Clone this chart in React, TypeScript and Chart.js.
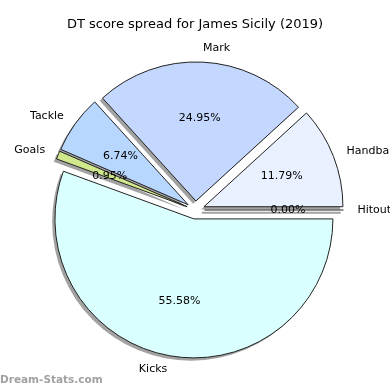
import React, { useEffect, useRef } from "react";
import { Chart, registerables } from "chart.js";

Chart.register(...registerables);

// Data in matplotlib order (counter-clockwise from east)
const labels = ["Hitout", "Handball", "Mark", "Tackle", "Goals", "Kicks"];
const percents = [0.0, 11.79, 24.95, 6.74, 0.95, 55.58];
const colors = ["#f2f7ff", "#e9f0ff", "#c4d8ff", "#b7d7ff", "#cfe88c", "#d9ffff"];

const TITLE = "DT score spread for James Sicily (2019)";
const WATERMARK = "Dream-Stats.com";

// Chart.js draws clockwise, so reverse to mimic counter-clockwise order
const revLabels = [...labels].reverse();
const revValues = [...percents].reverse();
const revColors = [...colors].reverse();

const EXPLODE_FRAC = 0.065;
const SHADOW_FRAC = 0.02;
const FONT = "'DejaVu Sans', sans-serif";

const piePlugin = {
  id: "pieDecor",
  beforeDatasetsDraw(chart: any) {
    const ctx = chart.ctx as CanvasRenderingContext2D;
    const meta = chart.getDatasetMeta(0);
    // shadows
    meta.data.forEach((arc: any) => {
      const { x, y, startAngle, endAngle, outerRadius } = arc;
      const mid = (startAngle + endAngle) / 2;
      const ex = EXPLODE_FRAC * outerRadius;
      const sh = SHADOW_FRAC * outerRadius;
      const cx = x + Math.cos(mid) * ex - sh;
      const cy = y + Math.sin(mid) * ex + sh;
      ctx.save();
      if (endAngle - startAngle > 1e-6) {
        ctx.beginPath();
        ctx.moveTo(cx, cy);
        ctx.arc(cx, cy, outerRadius, startAngle, endAngle);
        ctx.closePath();
        ctx.fillStyle = "rgba(70,70,70,0.5)";
        ctx.fill();
      } else {
        ctx.beginPath();
        ctx.moveTo(cx, cy);
        ctx.lineTo(cx + Math.cos(startAngle) * outerRadius, cy + Math.sin(startAngle) * outerRadius);
        ctx.strokeStyle = "rgba(70,70,70,0.5)";
        ctx.lineWidth = 2;
        ctx.stroke();
      }
      ctx.restore();
    });
  },
  beforeDatasetDraw(chart: any) {
    const ctx = chart.ctx as CanvasRenderingContext2D;
    const meta = chart.getDatasetMeta(0);
    meta.data.forEach((arc: any) => {
      const { x, y, startAngle, endAngle, outerRadius } = arc;
      const mid = (startAngle + endAngle) / 2;
      const ex = EXPLODE_FRAC * outerRadius;
      ctx.save();
      ctx.translate(Math.cos(mid) * ex, Math.sin(mid) * ex);
      if (endAngle - startAngle > 1e-6) {
        arc.draw(ctx);
      } else {
        ctx.beginPath();
        ctx.moveTo(x, y);
        ctx.lineTo(x + Math.cos(startAngle) * outerRadius, y + Math.sin(startAngle) * outerRadius);
        ctx.strokeStyle = "#222";
        ctx.lineWidth = 1;
        ctx.stroke();
      }
      ctx.restore();
    });
    return false;
  },
  afterDatasetsDraw(chart: any) {
    const ctx = chart.ctx as CanvasRenderingContext2D;
    const meta = chart.getDatasetMeta(0);
    const ds = chart.data.datasets[0];
    ctx.save();
    ctx.font = `11px ${FONT}`;
    ctx.fillStyle = "#000";
    ctx.textBaseline = "middle";
    meta.data.forEach((arc: any, i: number) => {
      const { x, y, startAngle, endAngle, outerRadius } = arc;
      const mid = (startAngle + endAngle) / 2;
      const ex = EXPLODE_FRAC * outerRadius;
      const cx = x + Math.cos(mid) * ex;
      const cy = y + Math.sin(mid) * ex;
      const lx = cx + Math.cos(mid) * outerRadius * 1.1;
      const ly = cy + Math.sin(mid) * outerRadius * 1.1;
      ctx.textAlign = lx > x ? "left" : "right";
      ctx.fillText(chart.data.labels[i], lx, ly);
      const px = cx + Math.cos(mid) * outerRadius * 0.6;
      const py = cy + Math.sin(mid) * outerRadius * 0.6;
      ctx.textAlign = "center";
      ctx.fillText((ds.data[i] as number).toFixed(2) + "%", px, py);
    });
    ctx.restore();

    // title
    ctx.save();
    ctx.font = `13px ${FONT}`;
    ctx.fillStyle = "#000";
    ctx.textAlign = "center";
    ctx.textBaseline = "middle";
    ctx.fillText(TITLE, chart.width / 2, 25);
    // watermark
    ctx.font = `bold 10.5px ${FONT}`;
    ctx.fillStyle = "rgba(128,128,128,0.75)";
    ctx.textAlign = "left";
    ctx.fillText(WATERMARK, 0, 380);
    ctx.restore();
  },
};

export default function App() {
  const ref = useRef<HTMLCanvasElement | null>(null);
  useEffect(() => {
    document.body.style.margin = "0";
    const chart = new Chart(ref.current!, {
      type: "pie",
      data: {
        labels: revLabels,
        datasets: [
          {
            data: revValues,
            backgroundColor: revColors,
            borderColor: "#222",
            borderWidth: 1,
          },
        ],
      },
      options: {
        animation: false,
        responsive: false,
        rotation: 90,
        radius: 139,
        layout: { padding: { left: 1, right: 0, top: 30, bottom: 0 } },
        plugins: { legend: { display: false }, tooltip: { enabled: false }, title: { display: false } },
        events: [],
      },
      plugins: [piePlugin],
    });
    return () => chart.destroy();
  }, []);
  return (
    <div style={{ width: 390, height: 390, background: "#fff" }}>
      <canvas ref={ref} width={390} height={390} />
    </div>
  );
}
